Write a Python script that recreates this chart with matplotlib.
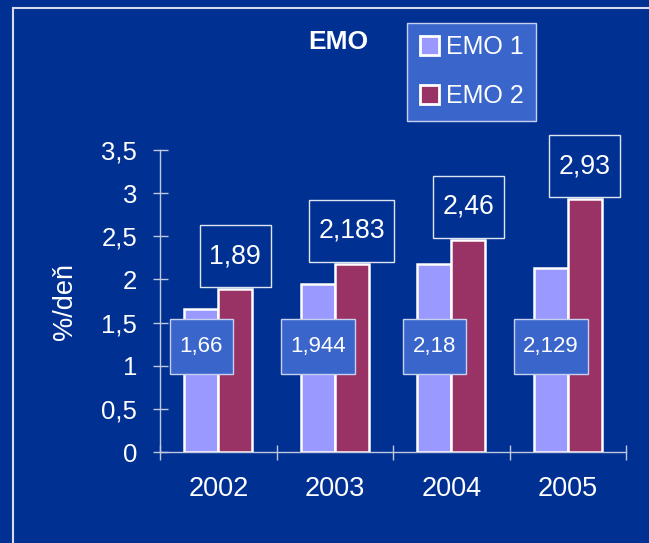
import matplotlib
matplotlib.use("Agg")
import matplotlib.pyplot as plt
import numpy as np
from matplotlib.patches import Patch
from matplotlib.lines import Line2D
from matplotlib.path import Path

plt.rcParams['font.family'] = ['Liberation Sans', 'DejaVu Sans']

# ---- data ----
years = ["2002", "2003", "2004", "2005"]
emo1 = [1.66, 1.944, 2.18, 2.129]
emo2 = [1.89, 2.183, 2.46, 2.93]
series_names = ["EMO 1", "EMO 2"]
title = "EMO"
ylabel = "%/deň"
yticks = [0, 0.5, 1, 1.5, 2, 2.5, 3, 3.5]

BG = '#003192'
C1 = '#9999FF'
C2 = '#993366'
BOXC = '#3A66CC'
LINEC = '#C0C8E0'

def fmt(v):
    return ('%g' % v).replace('.', ',')

def make_box(px, py):
    def box(x0, y0, w, h, mutation_size):
        x0 -= px; y0 -= py; w += 2 * px; h += 2 * py
        return Path([(x0, y0), (x0 + w, y0), (x0 + w, y0 + h), (x0, y0 + h), (x0, y0)], closed=True)
    return box

W, H = 649, 543
fig = plt.figure(figsize=(W / 100, H / 100), dpi=100, facecolor=BG)
ax = fig.add_axes([160 / W, 91 / H, 466 / W, 302 / H])
ax.set_facecolor(BG)

x = np.arange(len(years))
bw = 0.29
off = 0.145
ax.bar(x - off, emo1, bw, color=C1, edgecolor='white', linewidth=1.8, zorder=3)
ax.bar(x + off, emo2, bw, color=C2, edgecolor='white', linewidth=1.8, zorder=3)

ax.set_xlim(-0.5, len(years) - 0.5)
ax.set_ylim(0, 3.5)

for s in ['top', 'right']:
    ax.spines[s].set_visible(False)
for s in ['left', 'bottom']:
    ax.spines[s].set_color(LINEC)
    ax.spines[s].set_linewidth(1)

ax.set_yticks(yticks)
ax.set_yticklabels([fmt(t) for t in yticks])
ax.tick_params(axis='y', direction='inout', length=10.8, width=1, color=LINEC,
               labelcolor='white', labelsize=18.5, pad=11)

ax.set_xticks(np.arange(len(years) + 1) - 0.5)
ax.set_xticklabels([])
ax.set_xticks(x, minor=True)
ax.set_xticklabels(years, minor=True)
ax.tick_params(axis='x', which='major', direction='inout', length=10.8, width=1, color=LINEC)
ax.tick_params(axis='x', which='minor', length=0, labelcolor='white', labelsize=19.5, pad=17.3)

# data labels
for i in range(len(years)):
    ax.text(x[i] - off, 1.217, fmt(emo1[i]), ha='center', va='center', color='white',
            fontsize=16, zorder=5,
            bbox=dict(boxstyle=make_box(9.5, 17), facecolor=BOXC, edgecolor='#C8D0F0', linewidth=1))
    ax.text(x[i] + off, emo2[i] + 0.38, fmt(emo2[i]), ha='center', va='center', color='white',
            fontsize=19.2, zorder=5,
            bbox=dict(boxstyle=make_box(9.5, 18), facecolor=BG, edgecolor='#E0E4F0', linewidth=1))

fig.text(65 / W, 1 - 301 / H, ylabel, rotation=90, ha='center', va='center', color='white', fontsize=19.5)
fig.text(338 / W, 1 - 42 / H, title, ha='center', va='center', color='white', fontsize=19, fontweight='bold')

handles = [Patch(facecolor=C1, edgecolor='white', linewidth=2),
           Patch(facecolor=C2, edgecolor='white', linewidth=2)]
leg = fig.legend(handles, series_names, loc='upper left', bbox_to_anchor=(407 / W, 1 - 22.7 / H),
                 frameon=True, fancybox=False, facecolor=BOXC, edgecolor='#C8D0F0', framealpha=1,
                 fontsize=18, handlelength=0.76, handleheight=0.76, handletextpad=0.3,
                 labelspacing=1.0, borderpad=0.5, borderaxespad=0)
leg.get_frame().set_linewidth(1)
for t in leg.get_texts():
    t.set_color('white')

# outer frame
fig.add_artist(Line2D([12.5 / W, 12.5 / W], [0, 1 - 7.5 / H], transform=fig.transFigure,
                      color='#D8DCEA', linewidth=1.5))
fig.add_artist(Line2D([12.5 / W, 1], [1 - 7.5 / H, 1 - 7.5 / H], transform=fig.transFigure,
                      color='#D8DCEA', linewidth=1.5))

fig.savefig('out.png', dpi=100, facecolor=BG)
